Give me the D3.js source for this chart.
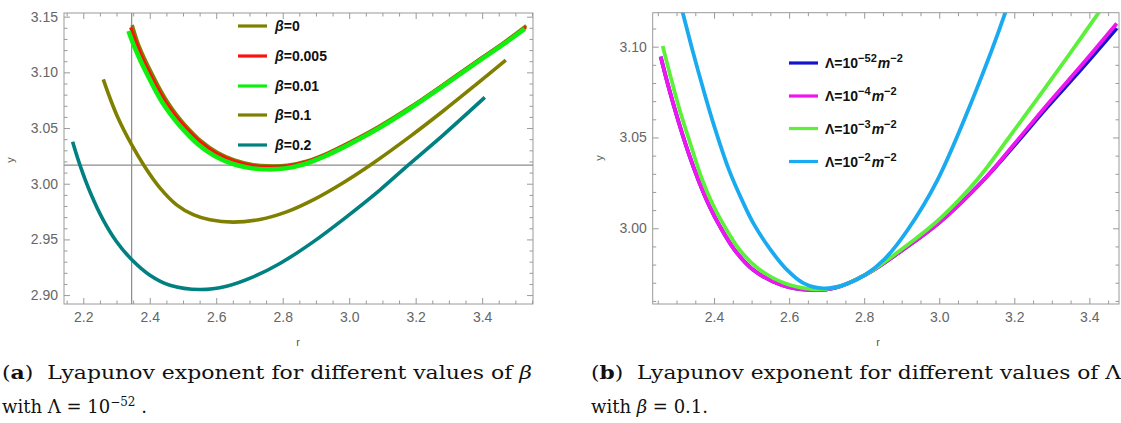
<!DOCTYPE html>
<html><head><meta charset="utf-8">
<script src="https://cdn.jsdelivr.net/npm/d3@7"></script>
<style>body{margin:0;background:#fff}svg{display:block}</style>
</head><body>
<svg id="c" width="1121" height="423"></svg>
<script>
// ---------- Panel (a) data: r vs y for different beta (Lambda = 1e-52) ----------
const legendA = ["0", "0.005", "0.01", "0.1", "0.2"];
const colorsA = ["#808000", "#ff1010", "#10f010", "#808000", "#008080"];
const beta0 = [[2.347,3.1425],[2.364,3.1265],[2.384,3.1125],[2.404,3.1003],[2.429,3.0858],[2.454,3.0731],[2.479,3.0626],[2.504,3.0535],[2.554,3.0384],[2.604,3.0279],[2.654,3.0213],[2.704,3.0175],[2.754,3.0160],[2.814,3.0166],[2.874,3.0205],[2.934,3.0273],[3.004,3.0375],[3.084,3.0504],[3.184,3.0688],[3.284,3.0892],[3.384,3.1101],[3.464,3.1265],[3.533,3.1420]];
const beta0005 = [[2.3424,3.1404],[2.3604,3.1260],[2.3805,3.1111],[2.4005,3.0991],[2.4256,3.0847],[2.4506,3.0721],[2.4757,3.0617],[2.5008,3.0527],[2.5509,3.0377],[2.6010,3.0272],[2.6511,3.0206],[2.7013,3.0167],[2.7514,3.0152],[2.8115,3.0158],[2.8717,3.0197],[2.9318,3.0266],[3.0020,3.0368],[3.0822,3.0497],[3.1825,3.0682],[3.2827,3.0886],[3.3830,3.1096],[3.4632,3.1260],[3.5313,3.1404]];
const beta001 = [[2.336,3.1372],[2.354,3.1228],[2.374,3.1093],[2.394,3.0972],[2.419,3.0828],[2.444,3.0702],[2.469,3.0598],[2.494,3.0508],[2.544,3.0357],[2.594,3.0251],[2.644,3.0184],[2.694,3.0145],[2.744,3.0130],[2.804,3.0136],[2.864,3.0175],[2.924,3.0244],[2.996,3.0347],[3.077,3.0477],[3.178,3.0664],[3.279,3.0869],[3.380,3.1080],[3.460,3.1244],[3.528,3.1390]];
const beta01 = [[2.2602,3.0937],[2.2802,3.0770],[2.3053,3.0585],[2.3454,3.0350],[2.3855,3.0150],[2.4306,2.9962],[2.4807,2.9810],[2.5308,2.9722],[2.5810,2.9676],[2.6511,2.9655],[2.7313,2.9679],[2.8115,2.9747],[2.8917,2.9855],[2.9820,3.0009],[3.0672,3.0175],[3.1825,3.0423],[3.2827,3.0653],[3.3830,3.0894],[3.4712,3.1110]];
const beta02 = [[2.1679,3.0377],[2.1900,3.0167],[2.2201,2.9928],[2.2602,2.9673],[2.3003,2.9479],[2.3454,2.9320],[2.4005,2.9179],[2.4607,2.9089],[2.5509,2.9050],[2.6311,2.9080],[2.7113,2.9164],[2.7915,2.9284],[2.8917,2.9478],[2.9920,2.9703],[3.0922,2.9943],[3.1774,3.0167],[3.2827,3.0437],[3.4080,3.0775]];
const seriesA = [beta0, beta0005, beta001, beta01, beta02];
const gridA = {r: 2.3455, y: 3.0167};
const xTicksA = [2.2, 2.4, 2.6, 2.8, 3.0, 3.2, 3.4];
const yTicksA = [2.90, 2.95, 3.00, 3.05, 3.10, 3.15];

// ---------- Panel (b) data: r vs y for different Lambda (beta = 0.1) ----------
const legendB = ["52", "4", "3", "2"];
const colorsB = ["#1414cc", "#f014f0", "#5cf03a", "#1aaaf0"];
const lam52 = [[2.2578,3.0945],[2.2773,3.0789],[2.3040,3.0596],[2.3307,3.0422],[2.3582,3.0266],[2.3884,3.0119],[2.4160,3.0009],[2.4551,2.9880],[2.5049,2.9770],[2.5796,2.9688],[2.6560,2.9660],[2.7218,2.9671],[2.8027,2.9743],[2.8996,2.9877],[3.0027,3.0036],[3.1182,3.0266],[3.2018,3.0460],[3.2871,3.0665],[3.3796,3.0878],[3.4729,3.1101]];
const lam4 = [[2.2578,3.0945],[2.2773,3.0789],[2.3040,3.0596],[2.3307,3.0422],[2.3582,3.0266],[2.3884,3.0119],[2.4160,3.0009],[2.4551,2.9880],[2.5049,2.9770],[2.5796,2.9688],[2.6560,2.9660],[2.7218,2.9671],[2.8027,2.9743],[2.8996,2.9877],[3.0027,3.0036],[3.1182,3.0266],[3.2018,3.0468],[3.2871,3.0679],[3.3796,3.0899],[3.4729,3.1128]];
const lam3 = [[2.2631,3.1004],[2.2818,3.0853],[2.3084,3.0651],[2.3351,3.0477],[2.3671,3.0275],[2.3973,3.0128],[2.4284,3.0009],[2.4684,2.9880],[2.5173,2.9779],[2.5884,2.9697],[2.6684,2.9664],[2.7307,2.9678],[2.8027,2.9743],[2.8996,2.9884],[3.0027,3.0055],[3.1004,3.0266],[3.1840,3.0495],[3.2640,3.0721],[3.3440,3.0950],[3.4249,3.1187],[3.4596,3.1285]];
const lam2 = [[2.3000,3.1310],[2.3165,3.1187],[2.3400,3.1000],[2.3700,3.0775],[2.4000,3.0565],[2.4400,3.0320],[2.4800,3.0130],[2.5049,3.0027],[2.5493,2.9885],[2.5938,2.9772],[2.6380,2.9698],[2.6916,2.9669],[2.7484,2.9690],[2.8027,2.9743],[2.8551,2.9832],[2.9138,2.9985],[2.9938,3.0260],[3.0916,3.0725],[3.1760,3.1187],[3.1900,3.1280]];
const seriesB = [lam52, lam4, lam3, lam2];
const xTicksB = [2.4, 2.6, 2.8, 3.0, 3.2, 3.4];
const yTicksB = [3.00, 3.05, 3.10];

// ---------- Drawing ----------
const SANS = "'Liberation Sans', Arial, sans-serif";
const SERIF = "'DejaVu Serif', serif";
const svg = d3.select("#c");
svg.append("rect").attr("width",1121).attr("height",423).attr("fill","#fff");

const xA = d3.scaleLinear([2.142, 3.553], [64, 533]);
const yA = d3.scaleLinear([2.892, 3.1533], [304, 13]);
const xB = d3.scaleLinear([2.2365, 3.479], [652.7, 1119]);
const yB = d3.scaleLinear([2.9583, 3.1187], [304, 12.7]);

function minorOf(scale, step, majors) {
  const [a, b] = scale.domain();
  const out = [];
  for (let v = Math.ceil(a / step - 1e-9) * step; v <= b + 1e-9; v += step) {
    const vv = Math.round(v * 1000) / 1000;
    if (!majors.some(m => Math.abs(m - vv) < 1e-6)) out.push(vv);
  }
  return out;
}

function frame(id, x, y, xMaj, yMaj, yStep) {
  const [x0, x1] = x.range(), [y0, y1] = y.range();
  const g = svg.append("g");
  const xMin = minorOf(x, 0.05, xMaj), yMin = minorOf(y, yStep, yMaj);
  const style = sel => {
    sel.select(".domain").remove();
    sel.selectAll("line").attr("stroke", "#9a9a9a").attr("stroke-width", 1);
    sel.selectAll("text").attr("fill", "#666").attr("font-size", 14).attr("font-family", SANS);
  };
  g.append("g").attr("transform", `translate(0,${y0})`)
    .call(d3.axisBottom(x).tickValues(xMaj).tickSizeInner(-6).tickSizeOuter(0).tickPadding(8).tickFormat(d3.format(".1f"))).call(style);
  g.append("g").attr("transform", `translate(0,${y0})`)
    .call(d3.axisBottom(x).tickValues(xMin).tickSizeInner(-3.5).tickSizeOuter(0).tickFormat("")).call(style);
  g.append("g").attr("transform", `translate(0,${y1})`)
    .call(d3.axisTop(x).tickValues(xMaj).tickSizeInner(-6).tickSizeOuter(0).tickFormat("")).call(style);
  g.append("g").attr("transform", `translate(0,${y1})`)
    .call(d3.axisTop(x).tickValues(xMin).tickSizeInner(-3.5).tickSizeOuter(0).tickFormat("")).call(style);
  g.append("g").attr("transform", `translate(${x0},0)`)
    .call(d3.axisLeft(y).tickValues(yMaj).tickSizeInner(-6).tickSizeOuter(0).tickPadding(6).tickFormat(d3.format(".2f"))).call(style);
  g.append("g").attr("transform", `translate(${x0},0)`)
    .call(d3.axisLeft(y).tickValues(yMin).tickSizeInner(-3.5).tickSizeOuter(0).tickFormat("")).call(style);
  g.append("g").attr("transform", `translate(${x1},0)`)
    .call(d3.axisRight(y).tickValues(yMaj).tickSizeInner(-6).tickSizeOuter(0).tickFormat("")).call(style);
  g.append("g").attr("transform", `translate(${x1},0)`)
    .call(d3.axisRight(y).tickValues(yMin).tickSizeInner(-3.5).tickSizeOuter(0).tickFormat("")).call(style);
  g.append("rect").attr("x", x0).attr("y", y1).attr("width", x1 - x0).attr("height", y0 - y1)
    .attr("fill", "none").attr("stroke", "#9a9a9a").attr("stroke-width", 1);
  svg.append("clipPath").attr("id", id).append("rect")
    .attr("x", x0).attr("y", y1).attr("width", x1 - x0).attr("height", y0 - y1);
}

frame("clipA", xA, yA, xTicksA, yTicksA, 0.01);
frame("clipB", xB, yB, xTicksB, yTicksB, 0.01);

// reference lines panel (a)
svg.append("line").attr("x1", xA(gridA.r)).attr("x2", xA(gridA.r)).attr("y1", yA.range()[1]).attr("y2", yA.range()[0])
  .attr("stroke", "#8c8c8c").attr("stroke-width", 1.2);
svg.append("line").attr("x1", xA.range()[0]).attr("x2", xA.range()[1]).attr("y1", yA(gridA.y)).attr("y2", yA(gridA.y))
  .attr("stroke", "#8c8c8c").attr("stroke-width", 1.2);

// curves
const lineA = d3.line().x(d => xA(d[0])).y(d => yA(d[1])).curve(d3.curveCatmullRom.alpha(0.5));
const lineB = d3.line().x(d => xB(d[0])).y(d => yB(d[1])).curve(d3.curveCatmullRom.alpha(0.5));
const widthsA = [3.6, 3.2, 4.6, 3.6, 3.6];
const gA = svg.append("g").attr("clip-path", "url(#clipA)");
seriesA.forEach((s, i) => gA.append("path").attr("d", lineA(s)).attr("fill", "none")
  .attr("stroke", colorsA[i]).attr("stroke-width", widthsA[i]).attr("stroke-linecap", "butt"));
const gB = svg.append("g").attr("clip-path", "url(#clipB)");
seriesB.forEach((s, i) => gB.append("path").attr("d", lineB(s)).attr("fill", "none")
  .attr("stroke", colorsB[i]).attr("stroke-width", 3.8).attr("stroke-linecap", "butt"));

// legends
const rowsA = [26, 56, 86, 115, 145];
legendA.forEach((b, i) => {
  svg.append("line").attr("x1", 238).attr("x2", 267).attr("y1", rowsA[i]).attr("y2", rowsA[i])
    .attr("stroke", colorsA[i]).attr("stroke-width", 3.2);
  const t = svg.append("text").attr("x", 275).attr("y", rowsA[i] + 5).attr("font-family", SANS)
    .attr("font-size", 14).attr("font-weight", "bold").attr("fill", "#111");
  t.append("tspan").attr("font-style", "italic").text("β");
  t.append("tspan").text("=" + b);
});
const rowsB = [63, 96, 128.5, 161.5];
legendB.forEach((e, i) => {
  svg.append("line").attr("x1", 789).attr("x2", 818).attr("y1", rowsB[i]).attr("y2", rowsB[i])
    .attr("stroke", colorsB[i]).attr("stroke-width", 3.2);
  const t = svg.append("text").attr("x", 825).attr("y", rowsB[i] + 5).attr("font-family", SANS)
    .attr("font-size", 14).attr("font-weight", "bold").attr("fill", "#111");
  t.append("tspan").text("Λ=10");
  t.append("tspan").attr("font-size", 11).attr("dy", -6).text("−" + e);
  t.append("tspan").attr("font-style", "italic").attr("dy", 6).attr("dx", 1).text("m");
  t.append("tspan").attr("font-size", 11).attr("dy", -6).text("−2");
});

// axis labels
[[14, 160], [603, 158]].forEach(p => svg.append("text").attr("transform", `translate(${p[0]},${p[1]}) rotate(-90)`)
  .attr("text-anchor", "middle").attr("font-family", SANS).attr("font-size", 11).attr("fill", "#555").text("y"));
[[298, 346], [878, 346]].forEach(p => svg.append("text").attr("x", p[0]).attr("y", p[1])
  .attr("text-anchor", "middle").attr("font-family", SANS).attr("font-size", 11).attr("fill", "#555").text("r"));

// captions
function cap(x, y, parts, len) {
  const t = svg.append("text").attr("x", x).attr("y", y).attr("font-family", SERIF).attr("font-size", 18).attr("fill", "#111")
    .style("white-space", "pre");
  if (len) t.attr("textLength", len).attr("lengthAdjust", "spacingAndGlyphs");
  parts.forEach(p => {
    const s = t.append("tspan").text(p.t);
    if (p.b) s.attr("font-weight", "bold");
    if (p.i) s.attr("font-style", "italic");
    if (p.sup) s.attr("font-size", 12).attr("dy", -7);
    if (p.down) s.attr("dy", 7);
  });
}
cap(2, 379, [{t:"("},{t:"a",b:1},{t:")  Lyapunov exponent for different values of "},{t:"β",i:1}], 530);
cap(2, 413, [{t:"with Λ = 10"},{t:"−52",sup:1},{t:" .",down:1}]);
cap(591, 379, [{t:"("},{t:"b",b:1},{t:")  Lyapunov exponent for different values of Λ"}], 530);
cap(591, 413, [{t:"with "},{t:"β",i:1},{t:" = 0.1."}]);
</script>
</body></html>
